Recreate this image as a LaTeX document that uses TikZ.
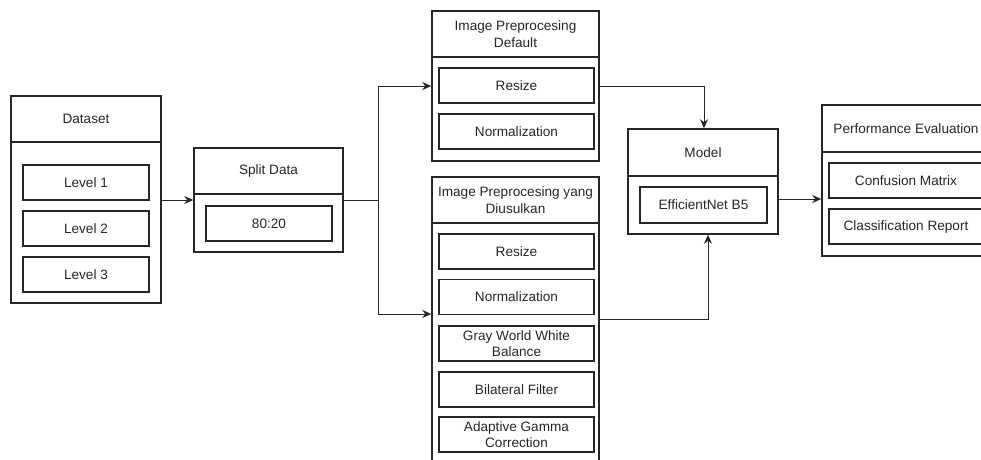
\documentclass[tikz,border=0pt]{standalone}
\usepackage{fontspec}
\setmainfont{Liberation Sans}
\usetikzlibrary{arrows.meta}
\begin{document}
\begin{tikzpicture}[x=1pt,y=-1pt,
  box/.style={draw=black!85,line width=1.5pt,rectangle,inner sep=0pt,align=center,
    font=\fontsize{13.6}{16.5}\selectfont,text=black!85},
  arr/.style={draw=black!85,line width=0.9pt,-{Stealth[length=9pt,width=8pt]}},
  ln/.style={draw=black!85,line width=0.9pt}]
\useasboundingbox (0,0) rectangle (981,459);
\clip (0,0) rectangle (981,459);
% Dataset
\node[box,minimum width=150pt,minimum height=46pt] (dshead) at (86,119) {Dataset};
\node[box,minimum width=150pt,minimum height=161pt] (dsbody) at (86,222.5) {};
\node[box,minimum width=126pt,minimum height=35pt] (lv1) at (86,182.5) {Level 1};
\node[box,minimum width=126pt,minimum height=35pt] (lv2) at (86,228.5) {Level 2};
\node[box,minimum width=126pt,minimum height=35pt] (lv3) at (86,274.5) {Level 3};
% Split
\node[box,minimum width=149pt,minimum height=46pt] (sphead) at (268.5,171) {Split Data};
\node[box,minimum width=149pt,minimum height=58pt] (spbody) at (268.5,223) {};
\node[box,minimum width=126pt,minimum height=35pt] (ratio) at (269,223.5) {80:20};
% Default preprocessing
\node[box,minimum width=167pt,minimum height=46pt] (defhead) at (515.5,34) {Image Preprocesing\\Default};
\node[box,minimum width=167pt,minimum height=104pt] (defbody) at (515.5,109) {};
\node[box,minimum width=155pt,minimum height=35pt] (dres) at (516.5,85.5) {Resize};
\node[box,minimum width=155pt,minimum height=35pt] (dnorm) at (516.5,131.5) {Normalization};
% Proposed preprocessing
\node[box,minimum width=167pt,minimum height=46pt] (prophead) at (515.5,200) {Image Preprocesing yang\\Diusulkan};
\node[box,minimum width=167pt,minimum height=260pt] (propbody) at (515.5,353) {};
\node[box,minimum width=155pt,minimum height=35pt] (pres) at (516.5,251.5) {Resize};
\node[box,minimum width=155pt,minimum height=35pt] (pnorm) at (516.5,297) {Normalization};
\node[box,minimum width=155pt,minimum height=35pt] (pgray) at (516.5,343.5) {Gray World White\\Balance};
\node[box,minimum width=155pt,minimum height=35pt] (pbil) at (516.5,389.5) {Bilateral Filter};
\node[box,minimum width=155pt,minimum height=35pt] (pagc) at (516.5,434.5) {Adaptive Gamma\\Correction};
% Model
\node[box,minimum width=150pt,minimum height=47pt] (mhead) at (703,152.5) {Model};
\node[box,minimum width=150pt,minimum height=58pt] (mbody) at (703,205) {};
\node[box,minimum width=127pt,minimum height=36pt] (effnet) at (703.5,205) {EfficientNet B5};
% Performance
\node[box,minimum width=168pt,minimum height=47pt] (phead) at (906,128.5) {Performance Evaluation};
\node[box,minimum width=168pt,minimum height=104pt] (pbody) at (906,204) {};
\node[box,minimum width=154pt,minimum height=35pt] (conf) at (906,180.5) {Confusion Matrix};
\node[box,minimum width=154pt,minimum height=35pt] (clsr) at (906,226.5) {Classification Report};
% coordinates
\coordinate (br) at (378,200);
\coordinate (inprop) at (378,314);
\coordinate (outprop) at (708,319);
\coordinate (outdef) at (704,86);
\coordinate (mout) at (778,199);
% connectors
\draw[arr] (dsbody.east |- br) -- (spbody.west |- br);
\draw[ln] (spbody.east |- br) -- (br);
\draw[arr] (br) |- (defbody.west |- outdef);
\draw[arr] (br) |- (propbody.west |- inprop);
\draw[arr] (defbody.east |- outdef) -| (mhead.north -| outdef);
\draw[arr] (propbody.east |- outprop) -| (mbody.south -| outprop);
\draw[arr] (mbody.east |- mout) -- (pbody.west |- mout);
\end{tikzpicture}
\end{document}
